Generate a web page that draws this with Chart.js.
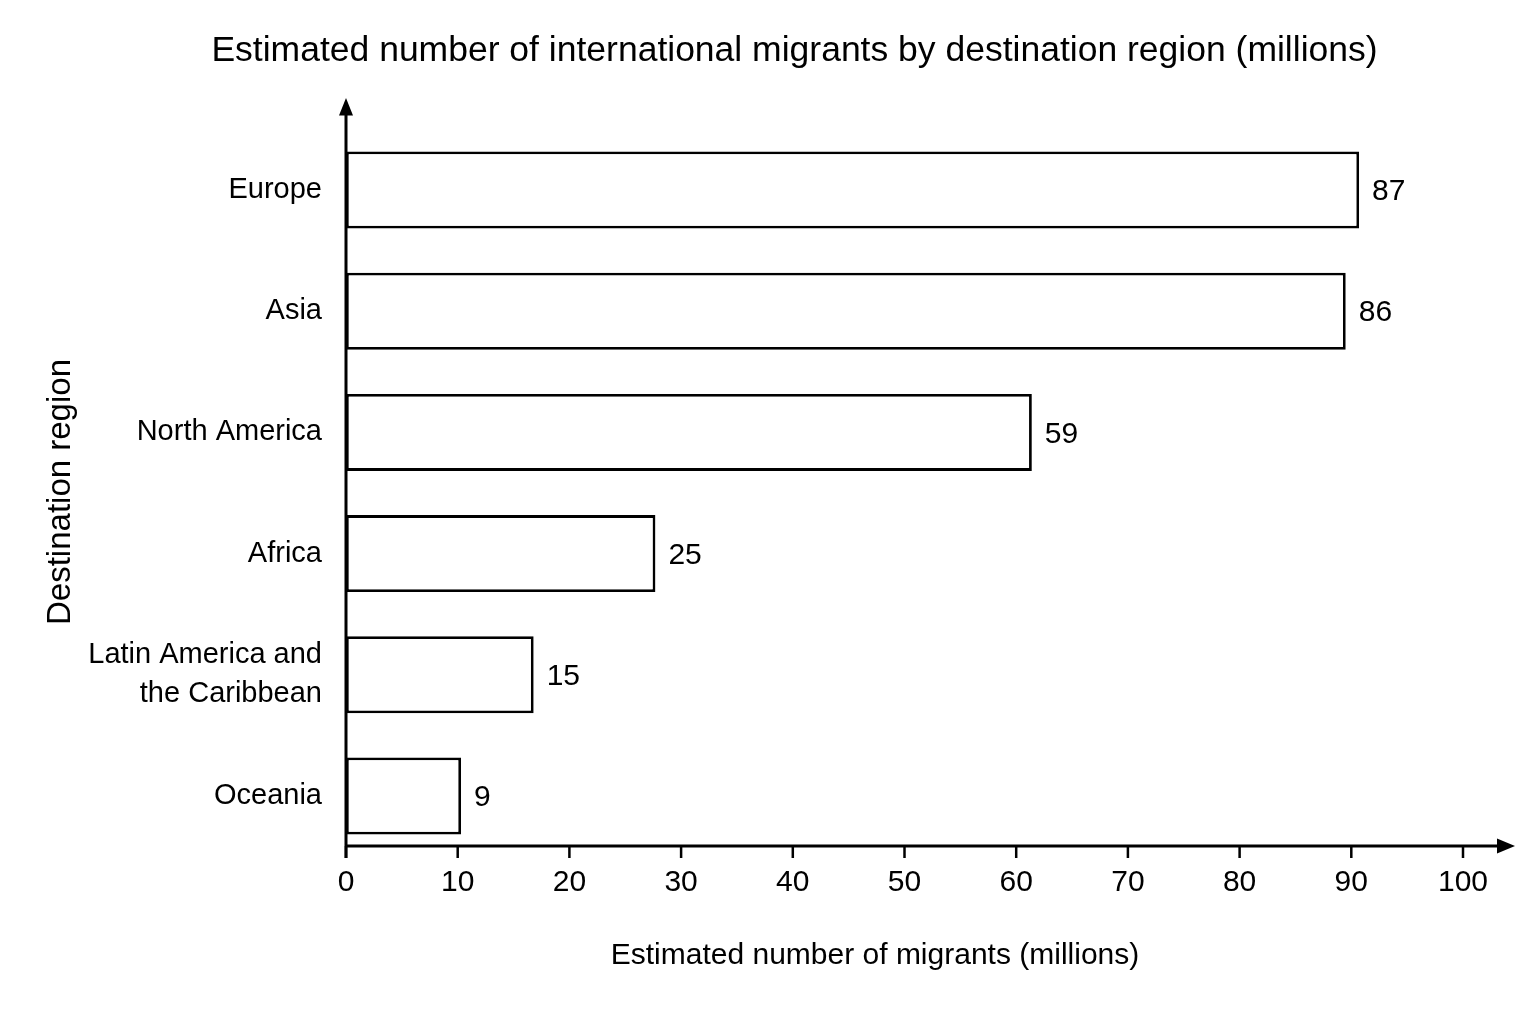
<!DOCTYPE html>
<html>
<head>
<meta charset="utf-8">
<script src="https://cdn.jsdelivr.net/npm/chart.js@4/dist/chart.umd.min.js"></script>
<style>
  html, body { margin: 0; padding: 0; background: #ffffff; }
  #wrap { width: 1536px; height: 1024px; position: relative; }
</style>
</head>
<body>
<div id="wrap"><canvas id="c"></canvas></div>
<script>
// ---- data ----
const chartTitle = 'Estimated number of international migrants by destination region (millions)';
const xAxisTitle = 'Estimated number of migrants (millions)';
const yAxisTitle = 'Destination region';
const categories = ['Europe', 'Asia', 'North America', 'Africa', ['Latin America and', 'the Caribbean'], 'Oceania'];
// bar lengths as drawn against the x scale
const barLengths = [90.7, 89.5, 61.4, 27.7, 16.8, 10.3];
// numbers printed next to the bars
const valueLabels = [87, 86, 59, 25, 15, 9];
const xMin = 0;
const xMax = 100;
const xStep = 10;

const FONT = "'Liberation Sans', Arial, Helvetica, sans-serif";

const axesPlugin = {
  id: 'axesPlugin',
  afterDraw(chart) {
    const ctx = chart.ctx;
    const area = chart.chartArea;
    const xs = chart.scales.x;
    const x0 = xs.getPixelForValue(xMin);
    const axisY = area.bottom - 10.6;
    const tickLen = 12;
    ctx.save();
    ctx.strokeStyle = '#000';
    ctx.fillStyle = '#000';
    // y axis line with arrow
    ctx.lineWidth = 3;
    ctx.beginPath();
    ctx.moveTo(x0, axisY + tickLen);
    ctx.lineTo(x0, area.top - 20);
    ctx.stroke();
    ctx.beginPath();
    ctx.moveTo(x0, area.top - 31.5);
    ctx.lineTo(x0 - 7, area.top - 14);
    ctx.lineTo(x0 + 7, area.top - 14);
    ctx.closePath();
    ctx.fill();
    // x axis line with arrow
    const tipX = area.right + 52;
    ctx.beginPath();
    ctx.moveTo(x0, axisY);
    ctx.lineTo(tipX - 12, axisY);
    ctx.stroke();
    ctx.beginPath();
    ctx.moveTo(tipX, axisY);
    ctx.lineTo(tipX - 18, axisY - 7.5);
    ctx.lineTo(tipX - 18, axisY + 7.5);
    ctx.closePath();
    ctx.fill();
    // tick marks
    ctx.lineWidth = 2.5;
    xs.ticks.forEach(t => {
      const px = xs.getPixelForValue(t.value);
      ctx.beginPath();
      ctx.moveTo(px, axisY);
      ctx.lineTo(px, axisY + tickLen);
      ctx.stroke();
    });
    // value labels next to bars
    const meta = chart.getDatasetMeta(0);
    ctx.font = '30px ' + FONT;
    ctx.textAlign = 'left';
    ctx.textBaseline = 'middle';
    meta.data.forEach((bar, i) => {
      ctx.fillText(String(valueLabels[i]), bar.x + 13, bar.y + 2);
    });
    // chart title
    ctx.font = '35.5px ' + FONT;
    ctx.textAlign = 'center';
    ctx.fillText(chartTitle, 794.5, 51);
    // x axis title
    ctx.font = '30px ' + FONT;
    ctx.fillText(xAxisTitle, 875, 956);
    // y axis title (rotated)
    ctx.translate(61, 492);
    ctx.rotate(-Math.PI / 2);
    ctx.font = '33px ' + FONT;
    ctx.fillText(yAxisTitle, 0, 0);
    ctx.restore();
  }
};

new Chart(document.getElementById('c'), {
  type: 'bar',
  data: {
    labels: categories,
    datasets: [{
      data: barLengths,
      backgroundColor: '#ffffff',
      borderColor: '#000000',
      borderWidth: 2.8,
      borderSkipped: false,
      barPercentage: 0.635,
      categoryPercentage: 1.0
    }]
  },
  options: {
    indexAxis: 'y',
    responsive: true,
    maintainAspectRatio: false,
    animation: false,
    devicePixelRatio: 1,
    layout: { padding: { top: 129.4, left: 0, right: 73, bottom: 0 } },
    plugins: {
      legend: { display: false },
      tooltip: { enabled: false },
      title: { display: false }
    },
    scales: {
      x: {
        type: 'linear',
        min: xMin,
        max: xMax,
        afterFit(scale) { scale.height = 167.4; },
        grid: { display: false, drawTicks: false, tickLength: 0 },
        border: { display: false },
        ticks: {
          stepSize: xStep,
          color: '#000',
          padding: 8.5,
          maxRotation: 0,
          autoSkip: false,
          font: { family: FONT, size: 30, lineHeight: 1.2 }
        }
      },
      y: {
        type: 'category',
        afterFit(scale) { scale.width = 346; },
        grid: { display: false, drawTicks: false, tickLength: 0 },
        border: { display: false },
        ticks: {
          color: '#000',
          padding: 24,
          autoSkip: false,
          font: { family: FONT, size: 29, lineHeight: 1.345 }
        }
      }
    }
  },
  plugins: [axesPlugin]
});
</script>
</body>
</html>
